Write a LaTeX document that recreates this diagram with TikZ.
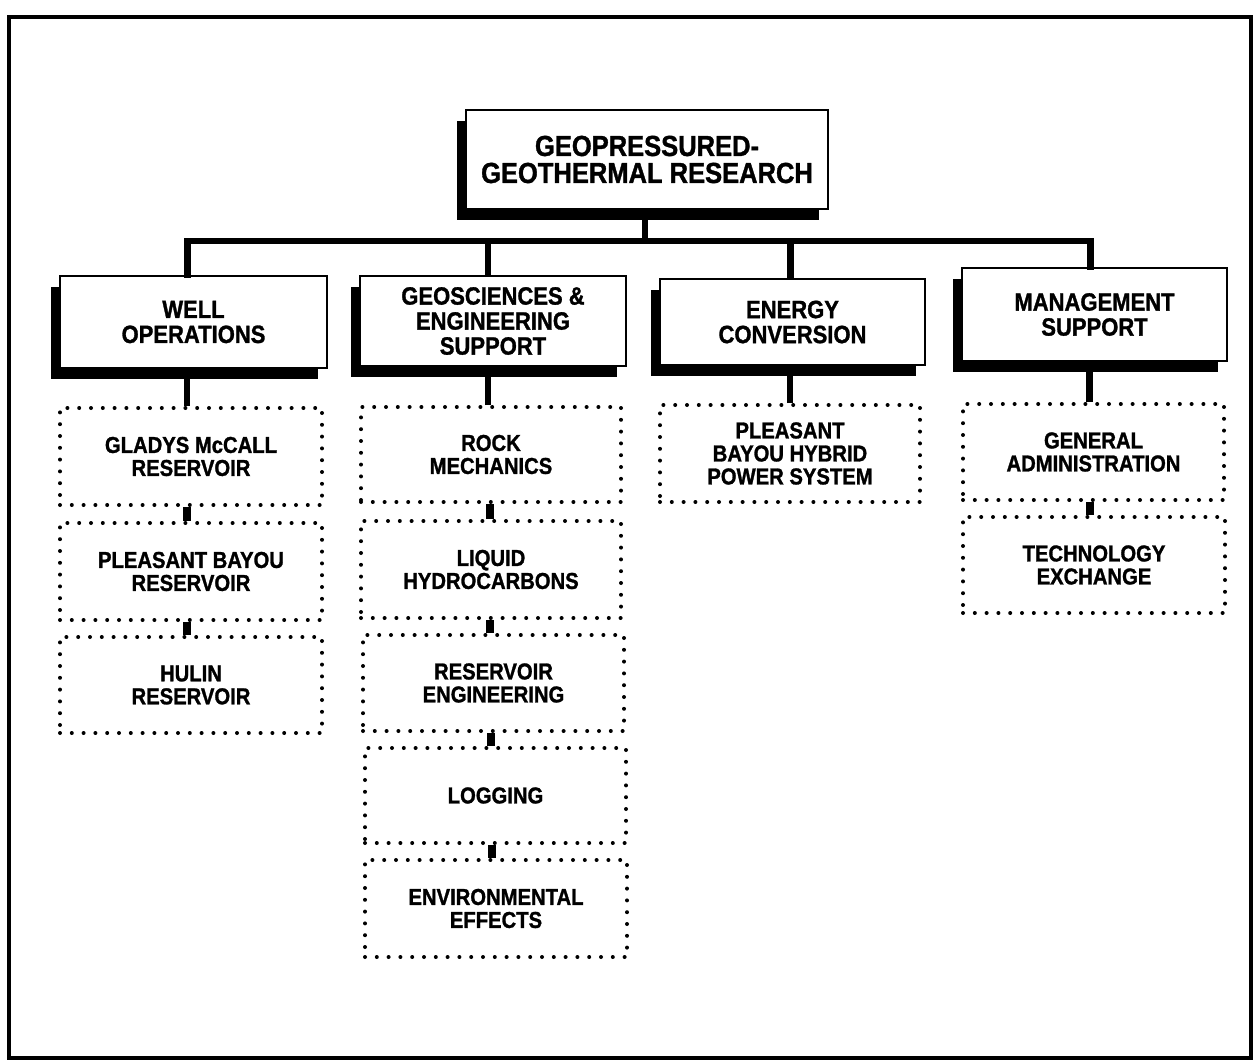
\documentclass[tikz,border=0pt]{standalone}
\usepackage{fontspec}
\setmainfont{Liberation Sans}[FakeStretch=0.88, BoldFeatures={FakeBold=1.2}]
\usetikzlibrary{shadows,calc}
\begin{document}
\begin{tikzpicture}[x=1pt,y=-1pt,
  hdr/.style={draw=black, line width=2pt, fill=white, align=center, inner sep=0pt,
    font=\bfseries\fontsize{25}{25}\selectfont,
    drop shadow={shadow xshift=-9pt, shadow yshift=-11pt, fill=black, opacity=1}},
  tophdr/.style={hdr, font=\bfseries\fontsize{29}{27}\selectfont},
  dotbox/.style={draw=black, line width=4pt, dash pattern=on 0pt off 11.8pt, line cap=round,
    align=center, inner sep=0pt, font=\bfseries\fontsize{23}{23}\selectfont},
  conn/.style={line width=6.5pt, black},
  chain/.style={line width=8pt, black}]
\useasboundingbox (0,0) rectangle (1255,1064);
\fill[white] (0,0) rectangle (1255,1064);
\draw[line width=4pt] (9,17) rectangle (1251,1058);

% top
\node[tophdr, minimum width=362pt, minimum height=99pt] (top) at (647,159.5) {GEOPRESSURED-\\GEOTHERMAL RESEARCH};

% headers
\node[hdr, minimum width=267pt, minimum height=92pt] (well) at (193.5,322) {WELL\\OPERATIONS};
\node[hdr, minimum width=266pt, minimum height=90pt] (geo) at (493,321) {GEOSCIENCES \&\\ENGINEERING\\SUPPORT};
\node[hdr, minimum width=265pt, minimum height=86pt] (ener) at (792.5,322) {ENERGY\\CONVERSION};
\node[hdr, minimum width=265pt, minimum height=93pt] (mgmt) at (1094.5,314.5) {MANAGEMENT\\SUPPORT};

% dotted boxes
\node[dotbox, minimum width=262pt, minimum height=97pt] (w1) at (191,456.5) {GLADYS McCALL\\RESERVOIR};
\node[dotbox, minimum width=262pt, minimum height=97pt] (w2) at (191,571.5) {PLEASANT BAYOU\\RESERVOIR};
\node[dotbox, minimum width=262pt, minimum height=96pt] (w3) at (191,685) {HULIN\\RESERVOIR};

\node[dotbox, minimum width=260pt, minimum height=95pt] (g1) at (491,454.5) {ROCK\\MECHANICS};
\node[dotbox, minimum width=260pt, minimum height=97pt] (g2) at (491,569.5) {LIQUID\\HYDROCARBONS};
\node[dotbox, minimum width=261pt, minimum height=96pt] (g3) at (493.5,683) {RESERVOIR\\ENGINEERING};
\node[dotbox, minimum width=261pt, minimum height=95pt] (g4) at (495.5,795.5) {LOGGING};
\node[dotbox, minimum width=262pt, minimum height=97pt] (g5) at (496,908.5) {ENVIRONMENTAL\\EFFECTS};

\node[dotbox, minimum width=260pt, minimum height=97pt] (e1) at (790,453.5) {PLEASANT\\BAYOU HYBRID\\POWER SYSTEM};

\node[dotbox, minimum width=261pt, minimum height=96pt] (m1) at (1093.5,452) {GENERAL\\ADMINISTRATION};
\node[dotbox, minimum width=262pt, minimum height=96pt] (m2) at (1094,565) {TECHNOLOGY\\EXCHANGE};

% bus
\coordinate (bus) at (645,241);
\draw[conn] (top.south -| bus) -- (bus);
\draw[conn, line cap=rect] (bus) -| ([xshift=-6pt]well.north);
\draw[conn] ([xshift=-5pt]geo.north |- bus) -- ([xshift=-5pt]geo.north);
\draw[conn] ([xshift=-2pt]ener.north |- bus) -- ([xshift=-2pt]ener.north);
\draw[conn, line cap=rect] (bus) -| ([xshift=-4pt]mgmt.north);

% header to first dotted box
\draw[conn] ([xshift=-4pt]w1.north) -- ([xshift=-4pt]w1.north |- well.south);
\draw[conn] ([xshift=-3pt]g1.north) -- ([xshift=-3pt]g1.north |- geo.south);
\draw[conn] (e1.north) -- (e1.north |- ener.south);
\draw[conn] ([xshift=-4pt]m1.north) -- ([xshift=-4pt]m1.north |- mgmt.south);

% chains
\draw[chain] ([xshift=-4pt]w1.south) -- ([xshift=-4pt]w1.south |- w2.north);
\draw[chain] ([xshift=-4pt]w2.south) -- ([xshift=-4pt]w2.south |- w3.north);
\draw[chain] ([xshift=-1pt]g1.south) -- ([xshift=-1pt]g1.south |- g2.north);
\draw[chain] ([xshift=-1pt]g2.south) -- ([xshift=-1pt]g2.south |- g3.north);
\draw[chain] ([xshift=-2.5pt]g3.south) -- ([xshift=-2.5pt]g3.south |- g4.north);
\draw[chain] ([xshift=-3.5pt]g4.south) -- ([xshift=-3.5pt]g4.south |- g5.north);
\draw[chain] ([xshift=-4pt]m1.south) -- ([xshift=-4pt]m1.south |- m2.north);
\end{tikzpicture}
\end{document}
